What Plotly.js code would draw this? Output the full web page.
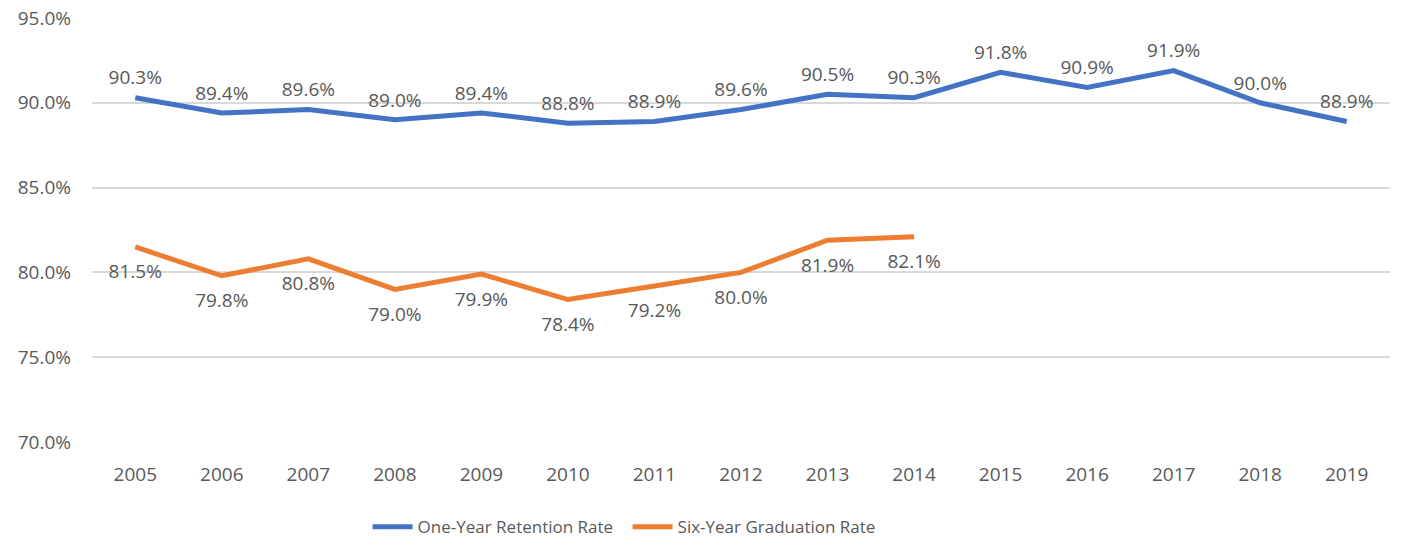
<!DOCTYPE html>
<html>
<head>
<meta charset="utf-8">
<script src="https://cdn.plot.ly/plotly-3.0.1.min.js"></script>
<style>html,body{margin:0;padding:0;background:#fff;}#chart{width:1403px;height:539px;}</style>
</head>
<body>
<div id="chart"></div>
<script>
const years = ['2005','2006','2007','2008','2009','2010','2011','2012','2013','2014','2015','2016','2017','2018','2019'];
const retention = [90.3, 89.4, 89.6, 89.0, 89.4, 88.8, 88.9, 89.6, 90.5, 90.3, 91.8, 90.9, 91.9, 90.0, 88.9];
const graduationYears = ['2005','2006','2007','2008','2009','2010','2011','2012','2013','2014'];
const graduation = [81.5, 79.8, 80.8, 79.0, 79.9, 78.4, 79.2, 80.0, 81.9, 82.1];
const yTicks = [70, 75, 80, 85, 90, 95];

const font = {family: 'Open Sans, sans-serif', size: 19, color: '#595959'};
const traces = [
  {
    x: years, y: retention, type: 'scatter', mode: 'lines+markers+text',
    name: 'One-Year Retention Rate',
    line: {color: '#4472C4', width: 5},
    marker: {size: 12, color: 'rgba(0,0,0,0)'},
    text: retention.map(v => v.toFixed(1) + '%'),
    textposition: 'top center',
    textfont: font,
    cliponaxis: false
  },
  {
    x: graduationYears, y: graduation, type: 'scatter', mode: 'lines+markers+text',
    name: 'Six-Year Graduation Rate',
    line: {color: '#ED7D31', width: 5},
    marker: {size: 26, color: 'rgba(0,0,0,0)'},
    text: graduation.map(v => v.toFixed(1) + '%'),
    textposition: 'bottom center',
    textfont: font,
    cliponaxis: false
  }
];
const layout = {
  width: 1403, height: 539,
  margin: {l: 92, r: 13, t: 18, b: 97, autoexpand: false},
  paper_bgcolor: '#fff', plot_bgcolor: '#fff',
  font: font,
  showlegend: true,
  legend: {
    orientation: 'h', xref: 'container', x: 0.262, xanchor: 'left',
    yref: 'container', y: 0.022, yanchor: 'middle',
    font: {family: 'Open Sans, sans-serif', size: 17, color: '#595959'},
    entrywidth: 205, itemwidth: 40, tracegroupgap: 0
  },
  xaxis: {
    type: 'category', categoryarray: years, categoryorder: 'array',
    showgrid: false, zeroline: false, showline: false,
    ticks: '', tickfont: font, range: [-0.5, 14.5], ticklabelstandoff: 19
  },
  yaxis: {
    range: [70, 95], tickvals: yTicks,
    ticktext: yTicks.map(v => v.toFixed(1) + '%'),
    showgrid: true, gridcolor: '#D9D9D9', gridwidth: 2,
    zeroline: false, showline: false, ticks: '', tickfont: font,
    ticklabelstandoff: 20
  }
};
Plotly.newPlot('chart', traces, layout, {displayModeBar: false, staticPlot: true});
</script>
</body>
</html>
